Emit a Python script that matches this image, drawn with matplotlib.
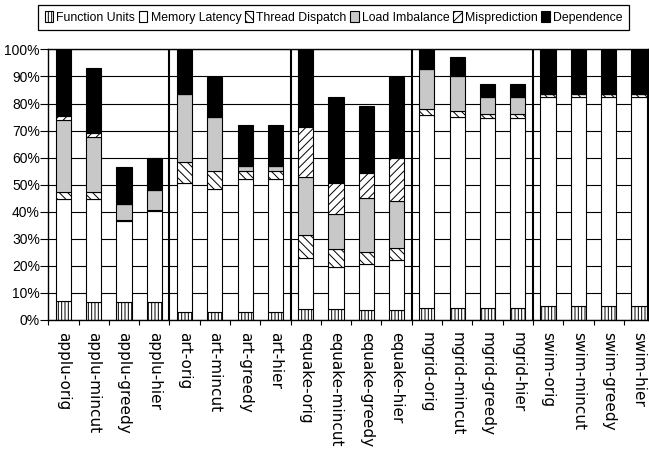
import matplotlib
matplotlib.use('Agg')
import matplotlib.pyplot as plt
import numpy as np

# percentages of cycles per category
categories = ['applu-orig', 'applu-mincut', 'applu-greedy', 'applu-hier',
              'art-orig', 'art-mincut', 'art-greedy', 'art-hier',
              'equake-orig', 'equake-mincut', 'equake-greedy', 'equake-hier',
              'mgrid-orig', 'mgrid-mincut', 'mgrid-greedy', 'mgrid-hier',
              'swim-orig', 'swim-mincut', 'swim-greedy', 'swim-hier']

function_units = [7.0, 6.8, 6.8, 6.8, 3.1, 2.8, 2.8, 2.8, 3.9, 4.1, 3.7, 3.7,
                  4.3, 4.3, 4.3, 4.3, 5.2, 5.2, 5.2, 5.2]
memory_latency = [37.7, 37.9, 29.7, 33.3, 47.4, 45.6, 49.2, 49.2, 18.9, 15.6, 16.9, 18.5,
                  71.4, 70.6, 70.2, 70.2, 77.1, 77.1, 77.1, 77.1]
thread_dispatch = [2.7, 2.7, 0.5, 0.5, 7.8, 6.5, 3.2, 3.2, 8.5, 6.4, 4.6, 4.4,
                   2.3, 2.3, 1.7, 1.7, 1.1, 1.1, 1.1, 1.1]
load_imbalance = [26.5, 20.1, 6.0, 7.4, 25.2, 20.0, 1.7, 1.7, 21.7, 13.1, 20.0, 17.5,
                  14.6, 13.1, 6.1, 6.1, 0.0, 0.0, 0.0, 0.0]
misprediction = [1.5, 1.5, 0.0, 0.0, 0.0, 0.0, 0.0, 0.0, 18.2, 11.5, 9.0, 15.9,
                 0.0, 0.0, 0.0, 0.0, 0.0, 0.0, 0.0, 0.0]
dependence = [24.6, 24.3, 13.7, 12.0, 16.5, 14.8, 15.1, 15.1, 28.8, 31.8, 24.9, 29.9,
              7.4, 6.7, 4.9, 4.9, 16.6, 16.6, 16.6, 16.6]

series = [('Function Units', function_units, 'white', '|||||'),
          ('Memory Latency', memory_latency, 'white', None),
          ('Thread Dispatch', thread_dispatch, 'white', '\\\\\\\\'),
          ('Load Imbalance', load_imbalance, '#c8c8c8', None),
          ('Misprediction', misprediction, 'white', '////'),
          ('Dependence', dependence, 'black', None)]

narrow = ['Liberation Sans', 'DejaVu Sans']
plt.rcParams['hatch.linewidth'] = 0.7
plt.rcParams['hatch.color'] = 'black'

fig = plt.figure(figsize=(6.49, 4.53), dpi=100)
ax = fig.add_axes([0.0744, 0.2936, 0.9241, 0.5974])

x = np.arange(len(categories))
bottom = np.zeros(len(categories))
for name, vals, col, hatch in series:
    vals = np.array(vals)
    ax.bar(x, vals, 0.5, bottom=bottom, color=col, edgecolor='black',
           linewidth=0.8, hatch=hatch, label=name, zorder=3)
    bottom += vals

ax.set_xlim(-0.5, 19.3)
ax.set_ylim(0, 100)

ax.set_yticks(np.arange(0, 101, 10))
ax.set_yticklabels(['%d%%' % v for v in range(0, 101, 10)], family=narrow, fontsize=10)
ax.yaxis.grid(True, color='black', linewidth=0.8, zorder=0)
ax.set_axisbelow(True)
ax.tick_params(axis='y', direction='out', length=5.5, width=0.8, pad=0.5)

ax.set_xticks(x)
ax.set_xticklabels(categories, rotation=270, ha='center', va='top',
                   family='DejaVu Sans', fontsize=11)
ax.set_xticks(np.arange(-0.5, 19.4, 1), minor=True)
ax.tick_params(axis='x', which='major', length=0, pad=9)
ax.tick_params(axis='x', which='minor', direction='out', length=3.5, width=0.8)

for sep in [3.5, 7.5, 11.5, 15.5]:
    ax.axvline(sep, color='black', linewidth=1.5, zorder=4)

for sp in ax.spines.values():
    sp.set_linewidth(1.0)
    sp.set_zorder(5)

leg = fig.legend(loc='center', bbox_to_anchor=(0.514, 0.9614),
                 ncol=6, prop={'family': narrow, 'size': 8.8},
                 handlelength=0.7, handleheight=0.95, handletextpad=0.25,
                 borderpad=0.55, borderaxespad=0, columnspacing=0.3,
                 fancybox=False, framealpha=1, edgecolor='black')
leg.get_frame().set_linewidth(0.9)

plt.savefig('out.png', dpi=100)
